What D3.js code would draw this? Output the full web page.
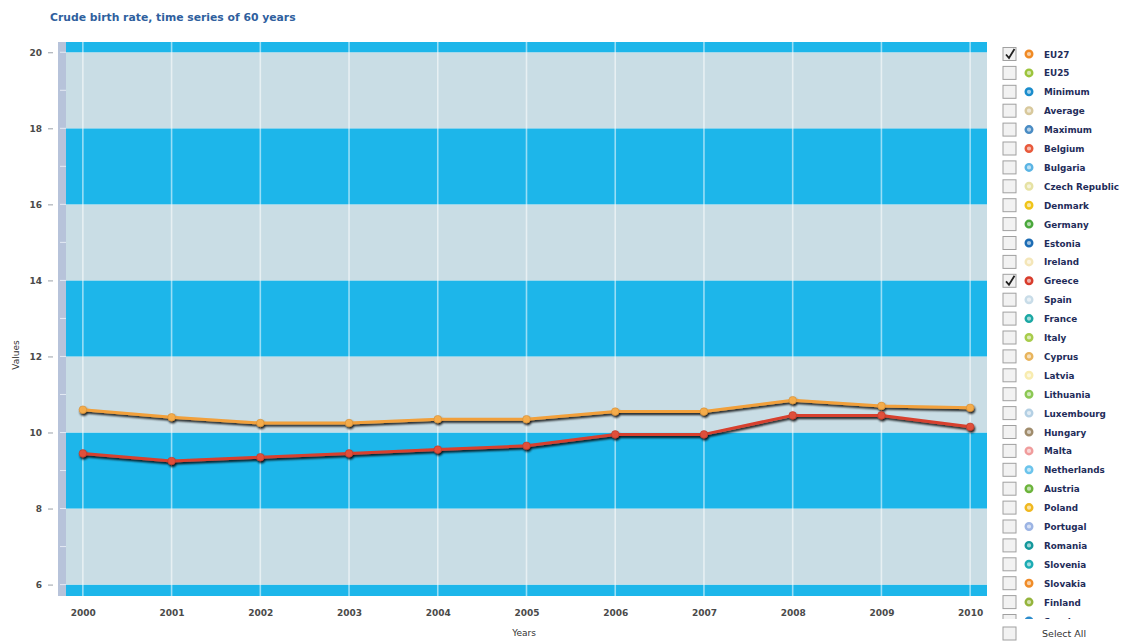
<!DOCTYPE html>
<html>
<head>
<meta charset="utf-8">
<script src="https://cdn.jsdelivr.net/npm/d3@7/dist/d3.min.js"></script>
<style>
  html, body { margin: 0; padding: 0; background: #ffffff; }
  svg { display: block; font-family: "DejaVu Sans", Verdana, sans-serif; }
</style>
</head>
<body>
<svg id="chart" width="1131" height="642"></svg>
<script>
// ---- data ----
const years = [2000, 2001, 2002, 2003, 2004, 2005, 2006, 2007, 2008, 2009, 2010];
const eu27Values = [10.6, 10.4, 10.25, 10.25, 10.35, 10.35, 10.55, 10.55, 10.85, 10.7, 10.65];
const greeceValues = [9.45, 9.25, 9.35, 9.45, 9.55, 9.65, 9.95, 9.95, 10.45, 10.45, 10.15];
const yTickValues = [6, 8, 10, 12, 14, 16, 18, 20];
const legendNames = ["EU27", "EU25", "Minimum", "Average", "Maximum", "Belgium", "Bulgaria",
  "Czech Republic", "Denmark", "Germany", "Estonia", "Ireland", "Greece", "Spain", "France",
  "Italy", "Cyprus", "Latvia", "Lithuania", "Luxembourg", "Hungary", "Malta", "Netherlands",
  "Austria", "Poland", "Portugal", "Romania", "Slovenia", "Slovakia", "Finland", "Sweden"];
const checkedNames = ["EU27", "Greece"];

// ---- styles ----
const legendColors = ["#f08a24", "#9cc43c", "#1a8ccc", "#d8c89c", "#4a8cc4", "#e85a3c", "#5ab4e4",
  "#e6e2a4", "#f0c418", "#4aa83c", "#1c6cb4", "#f4e6b8", "#d83c2c", "#c8dce8", "#1ca8a4",
  "#a8cc4c", "#e8b45c", "#f8ecb0", "#8cc854", "#b4d0e4", "#a08c6c", "#f09c9c", "#6cc4ec",
  "#6cb43c", "#f0b820", "#9cb4e4", "#14989c", "#1cacb4", "#f08c28", "#94b43c", "#2c8ccc"];
const bandBlue = "#1db6ea";
const bandGray = "#c9dde5";

const svg = d3.select("#chart");

const plot = { left: 66, right: 987, top: 42, bottom: 596 };
const x = d3.scaleLinear().domain([1999.81, 2010.19]).range([plot.left, plot.right]);
const y = d3.scaleLinear().domain([5.7, 20.27]).range([plot.bottom, plot.top]);

// drop shadow for the series lines
const defs = svg.append("defs");
const shadow = defs.append("filter").attr("id", "lineShadow")
  .attr("x", "-5%").attr("y", "-50%").attr("width", "110%").attr("height", "200%");
shadow.append("feGaussianBlur").attr("in", "SourceAlpha").attr("stdDeviation", 1.1).attr("result", "b");
shadow.append("feOffset").attr("in", "b").attr("dx", 1).attr("dy", 2).attr("result", "o");
shadow.append("feComponentTransfer").attr("in", "o").attr("result", "s")
  .append("feFuncA").attr("type", "linear").attr("slope", 0.9);
const merge = shadow.append("feMerge");
merge.append("feMergeNode").attr("in", "s");
merge.append("feMergeNode").attr("in", "SourceGraphic");

defs.append("clipPath").attr("id", "legendClip")
  .append("rect").attr("x", 995).attr("y", 40).attr("width", 136).attr("height", 579);

// title
svg.append("text")
  .attr("x", 50).attr("y", 21)
  .attr("font-size", 10.8).attr("font-weight", "bold")
  .attr("fill", "#2f5f9e")
  .text("Crude birth rate, time series of 60 years");

// left strip of the value axis
svg.append("rect")
  .attr("x", 58).attr("y", plot.top).attr("width", plot.left - 58)
  .attr("height", plot.bottom - plot.top)
  .attr("fill", "#b7c3da");

// alternating horizontal bands
const bandStarts = d3.range(4, 22, 2);
svg.append("g").selectAll("rect").data(bandStarts).join("rect")
  .attr("x", plot.left)
  .attr("width", plot.right - plot.left)
  .attr("y", d => y(Math.min(d + 2, y.domain()[1])))
  .attr("height", d => y(Math.max(d, y.domain()[0])) - y(Math.min(d + 2, y.domain()[1])))
  .attr("fill", d => (d / 2) % 2 === 0 ? bandBlue : bandGray);

// vertical year grid lines
svg.append("g").selectAll("line").data(years).join("line")
  .attr("x1", d => x(d)).attr("x2", d => x(d))
  .attr("y1", plot.top).attr("y2", plot.bottom)
  .attr("stroke", "#ffffff").attr("stroke-opacity", 0.55).attr("stroke-width", 1.6);

// minor marks inside the strip
svg.append("g").selectAll("line").data(d3.range(6, 21, 1)).join("line")
  .attr("x1", 60).attr("x2", plot.left)
  .attr("y1", d => y(d)).attr("y2", d => y(d))
  .attr("stroke", "#e4eaf4").attr("stroke-width", 1);

// y axis
const yAxis = d3.axisLeft(y).tickValues(yTickValues).tickSize(5).tickPadding(6);
const gy = svg.append("g").attr("transform", "translate(53,0)").call(yAxis);
gy.select(".domain").remove();
gy.selectAll(".tick line").attr("stroke", "#9aa0a8");
gy.selectAll(".tick text").attr("font-size", 9).attr("font-weight", "bold")
  .attr("fill", "#4a4a4a").attr("font-family", "'DejaVu Sans', Verdana, sans-serif");

// x axis
const xAxis = d3.axisBottom(x).tickValues(years).tickFormat(d3.format("d")).tickSize(0).tickPadding(14);
const gx = svg.append("g").attr("transform", `translate(0,${plot.bottom})`).call(xAxis);
gx.select(".domain").remove();
gx.selectAll(".tick text").attr("font-size", 9).attr("font-weight", "bold")
  .attr("fill", "#4a4a4a").attr("font-family", "'DejaVu Sans', Verdana, sans-serif");

// axis titles
svg.append("text")
  .attr("transform", "translate(19,355) rotate(-90)")
  .attr("text-anchor", "middle").attr("font-size", 9)
  .attr("fill", "#333").text("Values");
svg.append("text")
  .attr("x", 524).attr("y", 636)
  .attr("text-anchor", "middle").attr("font-size", 9)
  .attr("fill", "#333").text("Years");

// series
const series = [
  { name: "EU27", values: eu27Values, color: "#f2a03a", dot: "#f4ac4c" },
  { name: "Greece", values: greeceValues, color: "#d8402e", dot: "#e0503a" }
];
const line = d3.line().x((d, i) => x(years[i])).y(d => y(d));

const gs = svg.append("g").selectAll("g").data(series).join("g")
  .attr("filter", "url(#lineShadow)");
gs.append("path")
  .attr("d", d => line(d.values))
  .attr("fill", "none").attr("stroke", d => d.color)
  .attr("stroke-width", 3).attr("stroke-linejoin", "round");
gs.each(function (s) {
  d3.select(this).selectAll("circle").data(s.values).join("circle")
    .attr("cx", (d, i) => x(years[i])).attr("cy", d => y(d))
    .attr("r", 3.8).attr("fill", s.dot)
    .attr("stroke", d3.color(s.color).darker(0.4)).attr("stroke-width", 0.6);
});

// legend
const legend = svg.append("g").attr("clip-path", "url(#legendClip)");
const rowY = i => 54 + i * 18.9;
const rows = legend.selectAll("g").data(legendNames).join("g")
  .attr("transform", (d, i) => `translate(0,${rowY(i)})`);
rows.append("rect")
  .attr("x", 1003).attr("y", -6.5).attr("width", 13).attr("height", 13)
  .attr("fill", "#f2f2f2").attr("stroke", "#a0a0a0").attr("stroke-width", 1);
rows.filter(d => checkedNames.includes(d)).append("path")
  .attr("d", "M1006,0.5 L1009,4 L1014.5,-5")
  .attr("fill", "none").attr("stroke", "#222").attr("stroke-width", 1.8);
rows.append("circle")
  .attr("cx", 1029).attr("cy", 0).attr("r", 3.3)
  .attr("fill", (d, i) => d3.interpolateRgb(legendColors[i], "#ffffff")(0.6))
  .attr("stroke", (d, i) => legendColors[i]).attr("stroke-width", 2.4);
rows.append("text")
  .attr("x", 1044).attr("y", 3.5)
  .attr("font-size", 8.8).attr("font-weight", "bold")
  .attr("fill", "#1f2d5a")
  .text(d => d);

// select-all control
svg.append("rect")
  .attr("x", 1003).attr("y", 627).attr("width", 13).attr("height", 13)
  .attr("fill", "#f2f2f2").attr("stroke", "#a0a0a0");
svg.append("text")
  .attr("x", 1042).attr("y", 637)
  .attr("font-size", 9.5).attr("fill", "#333")
  .text("Select All");
</script>
</body>
</html>
